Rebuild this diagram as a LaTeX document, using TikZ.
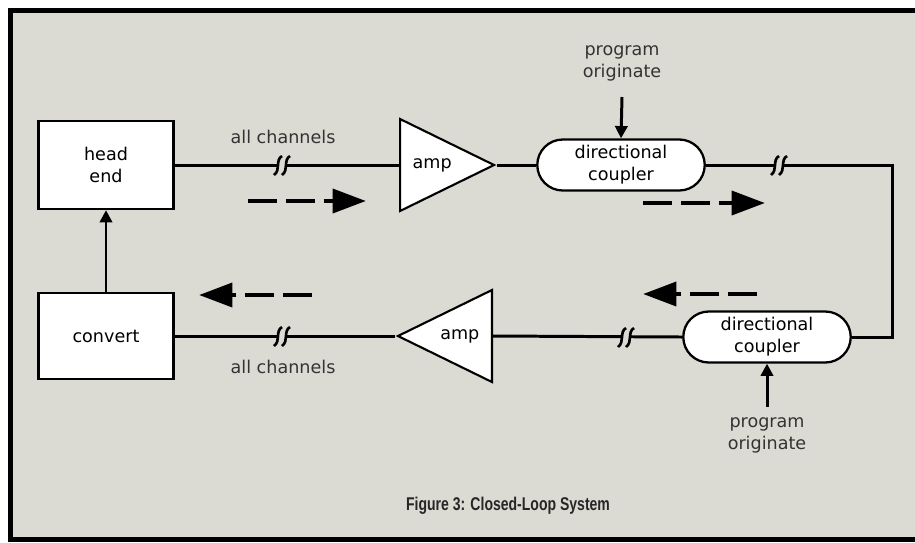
\documentclass[tikz,border=0pt]{standalone}
\usepackage{fontspec}
\setmainfont{DejaVu Sans}
\newfontfamily\capfont[FakeStretch=0.76]{Liberation Sans}
\usepackage{xcolor}
\usetikzlibrary{shapes.geometric, shapes.misc, arrows.meta}
\definecolor{paper}{RGB}{219,219,212}

\begin{document}
\begin{tikzpicture}[x=0.02cm, y=-0.02cm,
    every node/.style={font=\fontsize{10}{12.5}\selectfont},
    box/.style={draw, fill=white, line width=1.3pt, minimum width=2.7cm, minimum height=1.76cm, align=center},
    amp/.style={draw, fill=white, line width=1.2pt, isosceles triangle, isosceles triangle stretches, minimum width=1.84cm, minimum height=1.88cm, inner sep=0pt},
    coupler/.style={draw, fill=white, line width=1.3pt, rounded rectangle, minimum width=3.42cm, minimum height=1.02cm, align=center, inner sep=1pt},
    lbl/.style={align=center, text=black!80},
    wire/.style={line width=1.7pt},
    feed/.style={line width=1.7pt, -{Triangle[length=7pt,width=7pt]}},
    flow/.style={line width=2.6pt, dash pattern=on 16.5pt off 5pt, -{Triangle[length=19pt,width=13.5pt]}},
    brk/.style={line width=1.5pt}]
    % Page and frame
    \useasboundingbox (0,0) rectangle (915,542);
    \fill[white] (0,0) rectangle (915,542);
    \fill[paper] (10.5,10.5) rectangle (915,539.5);
    \draw[line width=2.4pt] (915,10.5) -- (10.5,10.5) -- (10.5,539.5) -- (915,539.5);

    % Blocks
    \node[box] (headend) at (106,165) {head\\end};
    \node[box, minimum height=1.72cm] (convert) at (106,336) {convert};
    \node[amp, anchor=lower side] (amp1) at (399,165) {amp};
    \node[amp, shape border rotate=180, anchor=lower side] (amp2) at (493,336) {amp};
    \node[coupler] (coupler1) at (621,165) {directional\\coupler};
    \node[coupler] (coupler2) at (767,337) {directional\\coupler};

    % Labels
    \node[lbl] (chan1) at (283,137) {all channels};
    \node[lbl] (chan2) at (283,367) {all channels};
    \node[lbl] (prog1) at (622,63) {program\\originate};
    \node[lbl] (prog2) at (767,435) {program\\originate};
    \node[text=black!85] (caption) at (508,506) {\capfont\fontsize{10.5}{12}\selectfont\bfseries Figure 3: Closed-Loop System};

    % Loop
    \coordinate (ne) at (892,165);
    \coordinate (se) at (892,337);
    \draw[wire] (headend.east) -- (amp1.lower side);
    \draw[wire] (amp1.apex) -- (coupler1.west);
    \draw[wire] (coupler1.east) -- (ne) -- (se) -- (coupler2.east);
    \draw[wire] (coupler2.west) -- (amp2.lower side);
    \draw[wire] (amp2.apex) -- (convert.east);
    \draw[feed] (convert.north) -- (headend.south);

    % Program inputs
    \coordinate (po1) at (622,97);
    \coordinate (po2) at (767,407);
    \draw[feed] (po1) -- (coupler1.north);
    \draw[feed] (po2) -- (coupler2.south);

    % Line breaks
    \foreach \bx/\by in {283/165, 780/165, 627/337, 283/336} {
        \fill[paper] (\bx-4,\by-3) rectangle (\bx+3,\by+3);
        \draw[brk] (\bx-9,\by+10) .. controls (\bx-2,\by+5) and (\bx-8,\by-5) .. (\bx-1,\by-9);
        \draw[brk] (\bx-1,\by+10) .. controls (\bx+6,\by+5) and (\bx,\by-5) .. (\bx+7,\by-9);
    }

    % Signal direction
    \coordinate (f1s) at (248,201); \coordinate (f1e) at (366,201);
    \coordinate (f2s) at (643,203); \coordinate (f2e) at (765,203);
    \coordinate (f3s) at (312,295); \coordinate (f3e) at (199,295);
    \coordinate (f4s) at (757,294); \coordinate (f4e) at (643,294);
    \draw[flow] (f1s) -- (f1e);
    \draw[flow] (f2s) -- (f2e);
    \draw[flow] (f3s) -- (f3e);
    \draw[flow] (f4s) -- (f4e);
\end{tikzpicture}
\end{document}
